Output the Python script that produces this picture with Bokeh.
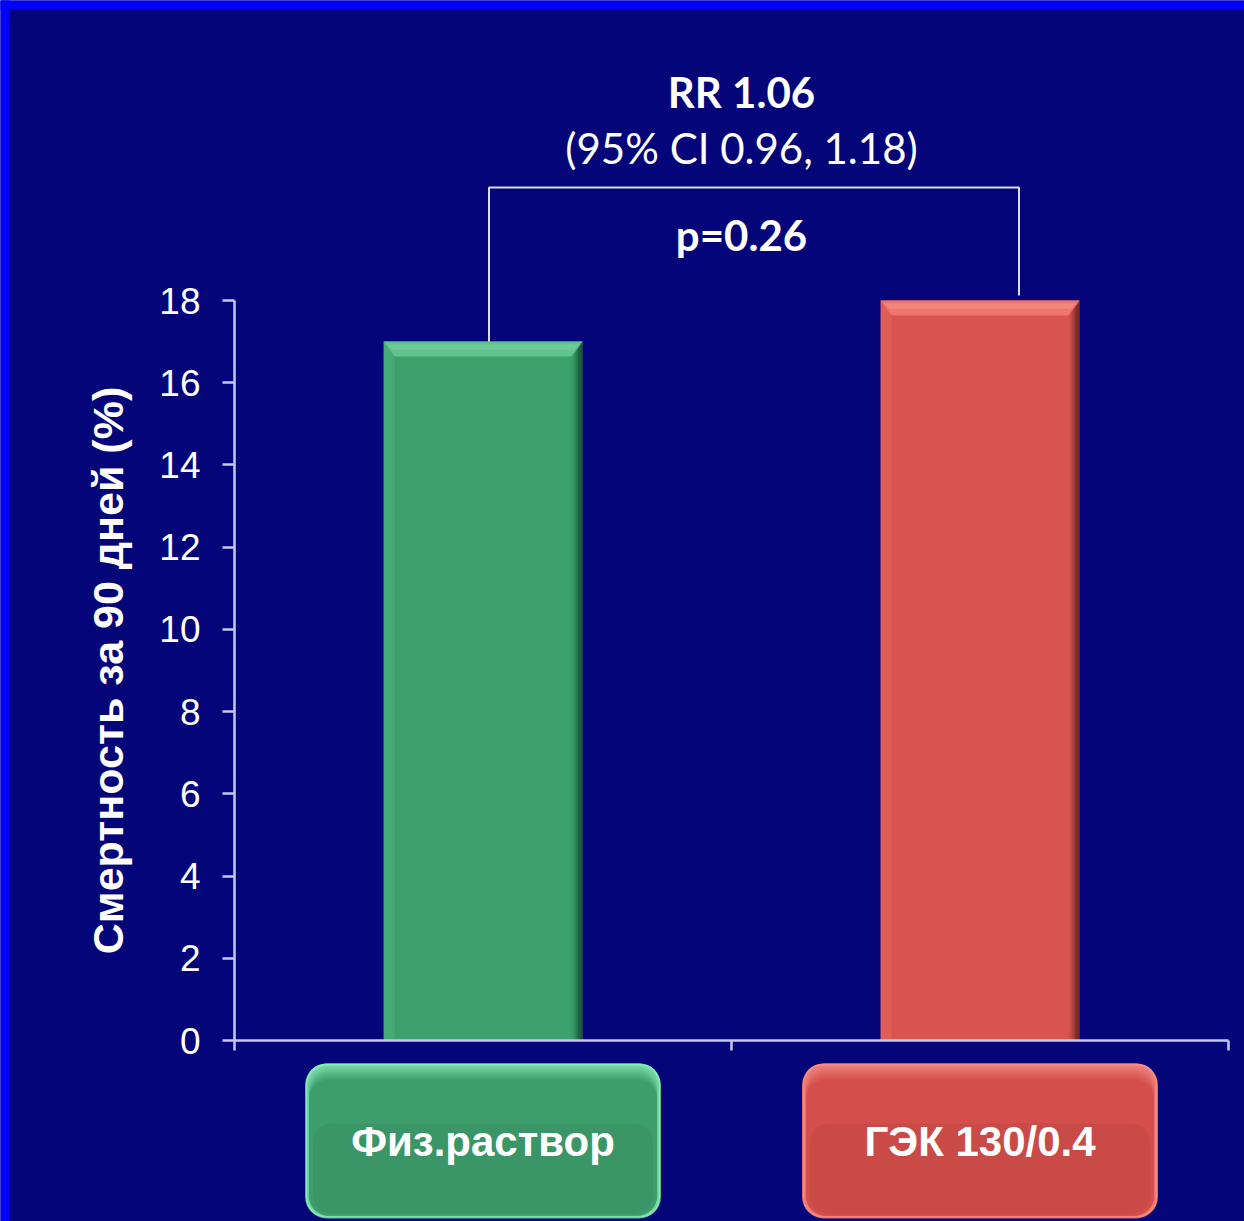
import numpy as np
from bokeh.plotting import figure
from bokeh.models import Range1d, LinearAxis, FixedTicker
from bokeh.embed import file_html
from bokeh.resources import INLINE
from bokeh.core.properties import value

# ---- data ----
categories = ["Физ.раствор", "ГЭК 130/0.4"]
mortality = [17, 18]
bar_main = ["#3BA06E", "#D9534F"]
bar_light = ["#5DC48C", "#F0756F"]
bar_dark = ["#12402A", "#5A1C1C"]
box_light = ["#86EBB6", "#F48C86"]
box_main = ["#3E9D6D", "#D44F4B"]
y_ticks = [0, 2, 4, 6, 8, 10, 12, 14, 16, 18]
y_title = "Смертность за 90 дней (%)"
rr_text = "RR 1.06"
ci_text = "(95% CI 0.96, 1.18)"
p_text = "p=0.26"

# ---- canvas geometry (pixels) ----
W, H = 1244, 1221
X0_PX, X1_PX = 234, 1228      # x = 0 .. number of categories
Y0_PX, YT_PX = 1040, 300      # y = 0 .. 18
Y_MAX = 18
sx = (X1_PX - X0_PX) / len(categories)
sy = (Y0_PX - YT_PX) / Y_MAX

x_range = Range1d(-X0_PX / sx, len(categories) + (W - X1_PX) / sx)
y_range = Range1d(-(H - Y0_PX) / sy, Y_MAX + YT_PX / sy)

BG = "#05057A"
AXIS = "#C8C8EE"


def hex2rgb(h):
    return np.array([int(h[k:k + 2], 16) for k in (1, 3, 5)], dtype=float)


def mix(a, b, t):
    c = hex2rgb(a) + (hex2rgb(b) - hex2rgb(a)) * t
    return "#%02x%02x%02x" % tuple(np.clip(c, 0, 255).astype(int))


p = figure(frame_width=W, frame_height=H, x_range=x_range, y_range=y_range,
           output_backend="svg", toolbar_location=None, min_border=0,
           x_axis_type=None, y_axis_type=None,
           background_fill_color=BG, border_fill_color=BG,
           outline_line_color=None)
p.grid.visible = False

px = lambda n: n / sx
py = lambda n: n / sy

# blue frame strips along top and left edges (run past the edges, clipped by the frame)
p.quad(left=[x_range.start - px(30)], right=[x_range.end + px(30)],
       bottom=[y_range.end - py(9)], top=[y_range.end + py(30)], color="#0000FF", line_color=None)
p.quad(left=[x_range.start - px(30)], right=[x_range.start + px(9)],
       bottom=[y_range.start - py(30)], top=[y_range.end + py(30)], color="#0000FF", line_color=None)

# ---- axes ----
yaxis = LinearAxis(fixed_location=0, bounds=(0, Y_MAX), ticker=FixedTicker(ticks=y_ticks),
                   axis_line_color=AXIS, axis_line_width=2.5,
                   major_tick_line_color=AXIS, major_tick_line_width=2.5,
                   major_tick_out=12, major_tick_in=0, minor_tick_line_color=None,
                   major_label_text_color="white", major_label_text_font_size="37px",
                   major_label_text_font="Liberation Sans", major_label_standoff=22,
                   axis_label=y_title, axis_label_text_color="white",
                   axis_label_text_font="Liberation Sans", axis_label_text_font_style="bold",
                   axis_label_text_font_size="43px", axis_label_standoff=24)
p.add_layout(yaxis, "left")

xaxis = LinearAxis(fixed_location=0, bounds=(0, len(categories)),
                   ticker=FixedTicker(ticks=list(range(len(categories) + 1))),
                   axis_line_color=AXIS, axis_line_width=2.5,
                   major_tick_line_color=AXIS, major_tick_line_width=2.5,
                   major_tick_out=10, major_tick_in=0, minor_tick_line_color=None,
                   major_label_text_color=None)
p.add_layout(xaxis, "below")

# ---- bars with bevelled edges ----
xc = np.arange(len(categories)) + 0.5
half = 0.2
bx, by = px(11), py(15)
for i, (x, v) in enumerate(zip(xc, mortality)):
    l, r = x - half, x + half
    p.quad(left=[l], right=[r], bottom=[0], top=[v], color=bar_main[i], line_color=None)
    # left bevel
    p.patch([l, l + bx, l + bx, l], [v, v - by, 0, 0], color=bar_light[i], alpha=0.3, line_color=None)
    # right edge shading
    n = 10
    for k in range(n):
        t = (k + 1) / n
        xl = r - bx + bx * k / n
        xr = r - bx + bx * (k + 1) / n
        yt = v - by * (1 - k / n)
        p.quad(left=[xl], right=[xr], bottom=[0], top=[yt],
               color=mix(bar_main[i], bar_dark[i], t ** 1.4), line_color=None)
    # top bevel
    p.patch([l, r, r - bx, l + bx], [v, v, v - by, v - by], color=bar_light[i], line_color=None)
    p.patch([l + bx * 0.3, r - bx * 0.3, r - bx * 0.8, l + bx * 0.8],
            [v - by * 0.2, v - by * 0.2, v - by * 0.55, v - by * 0.55],
            color="white", alpha=0.12, line_color=None)

# ---- comparison bracket ----
top_y = 20.75
p.line(x=[xc[0] + px(6), xc[0] + px(6), xc[1] + px(39), xc[1] + px(39)],
       y=[mortality[0], top_y, top_y, mortality[1] + py(5)],
       line_color="#DCDCF4", line_width=2)

mid = (xc[0] + xc[1]) / 2 + px(10)
p.text(x=[mid], y=[23.06], text=[rr_text], text_font=value("Lato"), text_font_style="bold",
       text_font_size="42px", text_color="white", text_align="center", text_baseline="middle")
p.text(x=[mid], y=[21.70], text=[ci_text], text_font=value("Lato"),
       text_font_size="42px", text_color="white", text_align="center", text_baseline="middle")
p.text(x=[mid], y=[19.60], text=[p_text], text_font=value("Lato"), text_font_style="bold",
       text_font_size="42px", text_color="white", text_align="center", text_baseline="middle")

# ---- category label buttons ----
bhalf = px(178)
btop, bbot = -py(1063 - Y0_PX), -py(1218 - Y0_PX)
p.quad(left=xc - bhalf, right=xc + bhalf, bottom=[bbot] * 2, top=[btop] * 2,
       fill_color=[mix(box_light[j], box_main[j], 0.6) for j in range(2)],
       line_color=None, border_radius=22)
layers = 9
for k in range(layers):
    t = (k + 1) / layers
    cols = [mix(box_light[j], box_main[j], t ** 0.9) if k < layers - 1 else box_main[j]
            for j in range(len(categories))]
    inset = px(min(k + 1, 4) * 1.0)
    top_k = btop if k == 0 else btop - py(k * 2.0)
    p.quad(left=xc - bhalf + inset, right=xc + bhalf - inset, bottom=[bbot + py(min(k + 1, 3))] * 2,
           top=[top_k] * 2, fill_color=(box_light if k == 0 else cols), line_color=None,
           border_radius=20)
p.quad(left=xc - bhalf + px(8), right=xc + bhalf - px(8), bottom=[bbot + py(5)] * 2,
       top=[btop - py(60)] * 2, fill_color="black", fill_alpha=0.05, line_color=None,
       border_radius=18)
p.text(x=xc, y=[(btop + bbot) / 2] * 2, text=categories, text_font=value("Liberation Sans"),
       text_font_style="bold", text_font_size="42px", text_color="white",
       text_align="center", text_baseline="middle")

open("out.html", "w").write(file_html(p, INLINE))
